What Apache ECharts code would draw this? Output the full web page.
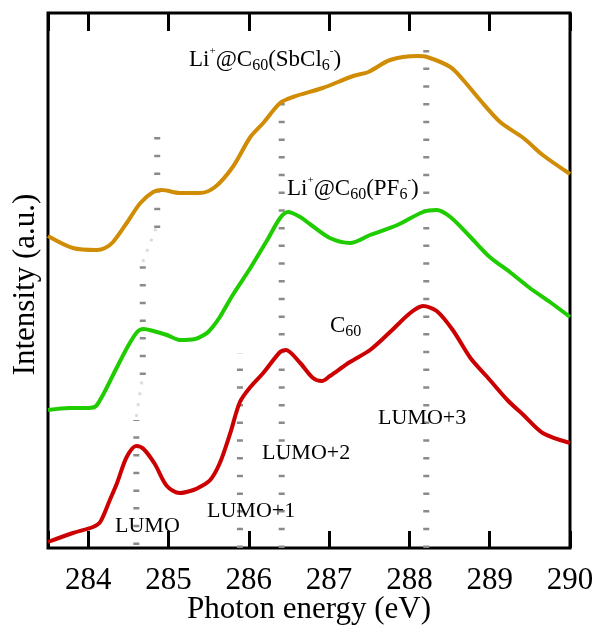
<!DOCTYPE html>
<html>
<head>
<meta charset="utf-8">
<script src="https://cdn.jsdelivr.net/npm/echarts@6/dist/echarts.min.js"></script>
<style>
  html, body { margin: 0; padding: 0; background: #fff; }
  #chart { width: 596px; height: 626px; }
</style>
</head>
<body>
<div id="chart"></div>
<script>
// spectra (photon energy in eV, intensity in a.u.)
const sbcl6Energy = [283.50, 283.81, 284.11, 284.21, 284.31, 284.48, 284.65, 284.81, 284.92, 285.14,
  285.39, 285.58, 285.80, 286.02, 286.18, 286.39, 286.55, 286.92, 287.30, 287.49,
  287.76, 288.10, 288.22, 288.51, 288.67, 288.88, 289.13, 289.42, 289.66, 290.00]
const sbcl6Intensity = [312, 300, 298, 300, 306, 325, 345, 356, 358, 355,
  355, 361, 381, 411, 425, 445, 451, 460, 472, 476,
  488, 492, 491, 481, 468, 448, 426, 410, 393, 374]

const pf6Energy = [283.50, 283.77, 284.00, 284.11, 284.36, 284.49, 284.61, 284.69, 284.81, 284.98,
  285.14, 285.33, 285.48, 285.55, 285.64, 285.80, 286.02, 286.23, 286.39, 286.49,
  286.64, 286.76, 287.01, 287.26, 287.51, 287.85, 288.17, 288.34, 288.51, 288.76,
  289.00, 289.25, 289.50, 289.75, 290.00]
const pf6Intensity = [138, 140, 140, 143, 181, 201, 216, 219, 217, 213,
  208, 209, 215, 221, 231, 253, 280, 308, 330, 336,
  331, 324, 310, 305, 313, 323, 336, 338, 331, 311,
  291, 276, 260, 246, 231]

const c60Energy = [283.50, 283.81, 284.06, 284.15, 284.27, 284.36, 284.48, 284.60, 284.69, 284.83,
  284.98, 285.14, 285.31, 285.39, 285.52, 285.64, 285.77, 285.89, 286.02, 286.18,
  286.39, 286.46, 286.64, 286.80, 286.91, 287.01, 287.26, 287.51, 287.76, 288.01,
  288.17, 288.34, 288.54, 288.76, 288.97, 289.22, 289.42, 289.66, 290.00]
const c60Intensity = [6, 15, 21, 26, 48, 65, 91, 102, 99, 84,
  62, 55, 58, 61, 68, 85, 115, 146, 161, 175,
  196, 198, 185, 170, 167, 172, 186, 198, 216, 235,
  242, 237, 218, 190, 171, 148, 133, 115, 105]

// dotted guide lines for LUMO levels: [energy, from, to]
const lumoGuides = [
  [284.60, 3, 128],
  [284.68, 173, 286],
  [284.86, 320, 415],
  [285.89, 0, 195],
  [286.41, 0, 459],
  [288.21, 0, 510]
]
// faint slanted links of the LUMO guide: [[e1, y1], [e2, y2]]
const lumoLinks = [
  [[284.60, 131], [284.68, 173]],
  [[284.68, 286], [284.86, 323]]
]

const xTicks = [284, 285, 286, 287, 288, 289, 290]

const serif = '"Liberation Serif", "Times New Roman", serif'

const pairs = (xs, ys) => xs.map((x, i) => [x, ys[i]])

const chart = echarts.init(document.getElementById('chart'))

const richStyle = {
  n: { fontSize: 23, lineHeight: 28, fontFamily: serif, fill: '#000' },
  sub: { fontSize: 16, lineHeight: 15, verticalAlign: 'bottom', fontFamily: serif, fill: '#000' },
  sup: { fontSize: 11, lineHeight: 15, verticalAlign: 'top', fontFamily: serif, fill: '#000' },
  t: { fontSize: 22, lineHeight: 28, fontFamily: serif, fill: '#000' }
}

const label = (left, top, text) => ({
  type: 'text',
  left: left,
  top: top,
  z: 10,
  style: { text: text, rich: richStyle, font: '22px ' + serif, fill: '#000' }
})

const guideSeries = lumoGuides.map(g => ({
  type: 'line',
  data: [[g[0], g[1]], [g[0], g[2]]],
  symbol: 'none',
  silent: true,
  z: 1,
  lineStyle: { color: '#8a8a8a', width: 6, type: [2.5, 15.2], cap: 'butt' }
}))
const linkSeries = lumoLinks.map(l => ({
  type: 'line',
  data: l,
  symbol: 'none',
  silent: true,
  z: 1,
  lineStyle: { color: '#dcdcdc', width: 3, type: [3, 8], cap: 'butt' }
}))

const curve = (data, color) => ({
  type: 'line',
  data: data,
  symbol: 'none',
  smooth: 0.3,
  z: 3,
  lineStyle: { color: color, width: 4 }
})

chart.setOption({
  animation: false,
  grid: {
    left: 48, right: 26, top: 13, bottom: 78,
    outerBoundsMode: 'none',
    show: true, borderColor: '#000', borderWidth: 3
  },
  xAxis: [
    {
      type: 'value', min: 283.5, max: 290, splitNumber: 6,
      position: 'bottom',
      name: 'Photon energy (eV)', nameLocation: 'middle', nameGap: 46,
      nameMoveOverlap: false,
      nameTextStyle: { fontSize: 31, fontFamily: serif, color: '#000' },
      axisLine: { show: false },
      axisTick: { inside: true, length: 17, lineStyle: { color: '#000', width: 3 } },
      axisLabel: {
        fontSize: 31, fontFamily: serif, color: '#000', margin: 17,
        formatter: v => (xTicks.indexOf(v) >= 0 ? String(v) : '')
      },
      splitLine: { show: false }
    },
    {
      type: 'value', min: 283.5, max: 290, splitNumber: 6,
      position: 'top',
      axisLine: { show: false },
      axisTick: { inside: true, length: 18, lineStyle: { color: '#000', width: 3 } },
      axisLabel: { show: false },
      splitLine: { show: false }
    }
  ],
  yAxis: {
    type: 'value', min: 0, max: 535,
    name: 'Intensity (a.u.)', nameLocation: 'middle', nameGap: 7, nameRotate: 90,
    nameMoveOverlap: false,
    nameTextStyle: { fontSize: 31, fontFamily: serif, color: '#000', padding: [0, 8, 0, 0] },
    axisLine: { show: false },
    axisTick: { show: false },
    axisLabel: { show: false },
    splitLine: { show: false }
  },
  series: [
    ...guideSeries,
    ...linkSeries,
    curve(pairs(sbcl6Energy, sbcl6Intensity), '#d08c04'),
    curve(pairs(pf6Energy, pf6Intensity), '#1fcc00'),
    curve(pairs(c60Energy, c60Intensity), '#cc0000')
  ],
  graphic: [
    label(189, 46, '{n|Li}{sup|+}{n|@C}{sub|60}{n|(SbCl}{sub|6}{sup|-}{n|)}'),
    label(287, 175, '{n|Li}{sup|+}{n|@C}{sub|60}{n|(PF}{sub|6}{sup|-}{n|)}'),
    label(330, 314, '{n|C}{sub|60}'),
    label(115, 515, '{t|LUMO}'),
    label(207, 500, '{t|LUMO+1}'),
    label(262, 442, '{t|LUMO+2}'),
    label(378, 407, '{t|LUMO+3}')
  ]
})
</script>
</body>
</html>
